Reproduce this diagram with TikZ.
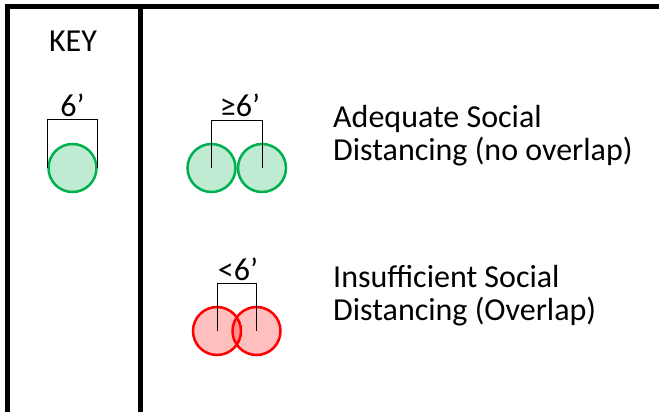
\documentclass[tikz,border=0pt]{standalone}
\usepackage{fontspec}
\setmainfont{Carlito}
\usetikzlibrary{positioning}
\definecolor{okgreen}{HTML}{00B050}
\definecolor{badred}{HTML}{FF0000}

\begin{document}
\begin{tikzpicture}[x=1pt,y=-1pt,
  bigtext/.style={font=\fontsize{32}{33}\selectfont, inner sep=0pt},
  dot/.style={circle, line width=2.5pt, minimum size=48pt, inner sep=0pt, fill opacity=0.25},
  okdot/.style={dot, draw=okgreen, fill=okgreen},
  baddot/.style={dot, draw=badred, fill=badred},
  span/.style={black, line width=1pt}]
\useasboundingbox (0,0) rectangle (659,412);

% Rahmen
\draw[line width=5pt] (7,412) -- (7,6.5) -- (659,6.5);
\draw[line width=5pt] (140,6.5) -- (140,412);

% Legende
\node[bigtext, anchor=base] (key) at (73,52) {KEY};
\node[okdot] (k) at (72.5,168) {};
\draw[span] (k.west) -- ++(0,-49) -| (k.east);
\node[bigtext, anchor=base] (klab) at (72.5,117) {6’};

% genug Abstand
\node[okdot] (g1) at (211.5,168) {};
\node[okdot] (g2) at (262,168) {};
\draw[span] (g1.center) -- ++(0,-48) -| (g2.center);
\node[bigtext, anchor=base] (glab) at (240,117) {≥6’};
\node[bigtext, anchor=base west, align=left] (gtext) at (333,160)
  {Adequate Social\\Distancing (no overlap)};

% zu wenig Abstand
\node[baddot] (r1) at (217,331) {};
\node[baddot] (r2) at (256.5,331) {};
\draw[span] (r1.center) -- ++(0,-48) -| (r2.center);
\node[bigtext, anchor=base] (rlab) at (238,280) {<6’};
\node[bigtext, anchor=base west, align=left] (rtext) at (333,320)
  {Insufficient Social\\Distancing (Overlap)};
\end{tikzpicture}
\end{document}
